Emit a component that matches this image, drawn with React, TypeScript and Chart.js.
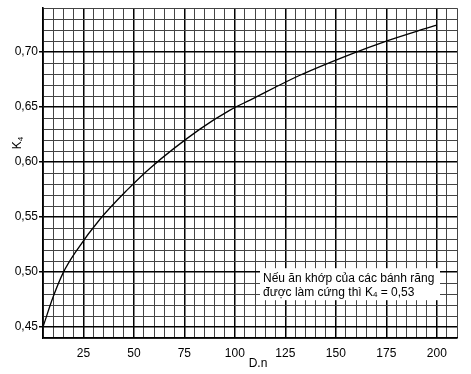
import { useEffect, useRef } from "react";
import { Chart, registerables } from "chart.js";

Chart.register(...registerables);

// D.n values along the curve and the matching K4 values
const dn = [5, 9.95, 14.9, 21.8, 33.2, 46.6, 58, 82.7, 97.6, 107.5, 132.2, 158.5, 173.3, 190.1, 200];
const k4 = [0.45, 0.477, 0.499, 0.52, 0.548, 0.5745, 0.5945, 0.63, 0.6473, 0.6564, 0.679, 0.699, 0.709, 0.719, 0.7245];

// labelled ticks
const xTickLabels = [25, 50, 75, 100, 125, 150, 175, 200];
const yTickLabels = [0.45, 0.5, 0.55, 0.6, 0.65, 0.7];

const xAxisTitle = "D.n";
const yAxisTitle = "K";
const yAxisSub = "4";
const noteLine1 = "Nếu ăn khớp của các bánh răng";
const noteLine2a = "được làm cứng thì K";
const noteLine2Sub = "4";
const noteLine2b = " = 0,53";

const FONT = '"Liberation Sans", Arial, Helvetica, sans-serif';

const isMajorX = (v: number) => xTickLabels.some((t) => Math.abs(t - v) < 1e-6);
const isMajorY = (v: number) => yTickLabels.some((t) => Math.abs(t - v) < 1e-6);

const textPlugin = {
  id: "textPlugin",
  afterDraw(chart: any) {
    const { ctx, chartArea: a } = chart;
    ctx.save();
    // note box
    const bx = a.left + 217;
    const by = a.top + 260;
    const bw = 180;
    const bh = 32;
    ctx.fillStyle = "#fff";
    ctx.fillRect(bx, by, bw, bh);
    ctx.fillStyle = "#000";
    ctx.textBaseline = "middle";
    ctx.textAlign = "left";
    ctx.font = `12px ${FONT}`;
    ctx.fillText(noteLine1, bx + 3, by + 10);
    const l2y = by + 24;
    let x = bx + 3;
    ctx.fillText(noteLine2a, x, l2y);
    x += ctx.measureText(noteLine2a).width;
    ctx.font = `8px ${FONT}`;
    ctx.fillText(noteLine2Sub, x, l2y + 3);
    x += ctx.measureText(noteLine2Sub).width;
    ctx.font = `12px ${FONT}`;
    ctx.fillText(noteLine2b, x, l2y);

    // x axis title
    ctx.textAlign = "center";
    ctx.fillText(xAxisTitle, 258, 364);

    // y axis title (rotated, with subscript)
    ctx.translate(18, 143);
    ctx.rotate(-Math.PI / 2);
    ctx.font = `12px ${FONT}`;
    const wK = ctx.measureText(yAxisTitle).width;
    ctx.font = `8px ${FONT}`;
    const w4 = ctx.measureText(yAxisSub).width;
    const start = -(wK + w4) / 2;
    ctx.textAlign = "left";
    ctx.font = `12px ${FONT}`;
    ctx.fillText(yAxisTitle, start, 0);
    ctx.font = `8px ${FONT}`;
    ctx.fillText(yAxisSub, start + wK, 3);
    ctx.restore();
  },
};

export default function App() {
  const ref = useRef<HTMLCanvasElement | null>(null);

  useEffect(() => {
    if (!ref.current) return;
    Chart.defaults.font.family = FONT;
    Chart.defaults.font.size = 12;
    Chart.defaults.color = "#000";
    const chart = new Chart(ref.current, {
      type: "line",
      data: {
        datasets: [
          {
            data: dn.map((x, i) => ({ x, y: k4[i] })),
            borderColor: "#000",
            borderWidth: 1.3,
            pointRadius: 0,
            fill: false,
            cubicInterpolationMode: "monotone",
          },
        ],
      },
      options: {
        responsive: false,
        animation: false,
        layout: { padding: { left: 0, top: 8, right: 14, bottom: 0 } },
        plugins: { legend: { display: false }, tooltip: { enabled: false } },
        scales: {
          x: {
            type: "linear",
            min: 5,
            max: 210,
            afterFit: (s: any) => {
              s.height = 36;
            },
            border: { display: true, color: "#000", width: 1.6 },
            grid: {
              drawTicks: false,
              color: (c: any) => (c.tick && isMajorX(c.tick.value) ? "#000" : "#444"),
              lineWidth: (c: any) => (c.tick && isMajorX(c.tick.value) ? 1.5 : 1),
            },
            ticks: {
              stepSize: 5,
              autoSkip: false,
              maxRotation: 0,
              padding: 8,
              color: "#000",
              font: { size: 12, family: FONT },
              callback: (v: any) => (isMajorX(Number(v)) ? String(v) : ""),
            },
          },
          y: {
            type: "linear",
            min: 0.44,
            max: 0.74,
            afterFit: (s: any) => {
              s.width = 43;
            },
            border: { display: true, color: "#000", width: 1.6 },
            grid: {
              drawTicks: true,
              tickLength: 4,
              tickColor: (c: any) => (c.tick && isMajorY(c.tick.value) ? "#000" : "rgba(0,0,0,0)"),
              color: (c: any) => (c.tick && isMajorY(c.tick.value) ? "#000" : "#444"),
              lineWidth: (c: any) => (c.tick && isMajorY(c.tick.value) ? 1.5 : 1),
            },
            ticks: {
              stepSize: 0.01,
              autoSkip: false,
              padding: 1,
              color: "#000",
              font: { size: 12, family: FONT },
              callback: (v: any) =>
                isMajorY(Number(v)) ? Number(v).toFixed(2).replace(".", ",") : "",
            },
          },
        },
      },
      plugins: [textPlugin],
    } as any);
    return () => chart.destroy();
  }, []);

  return (
    <div style={{ position: "fixed", left: 0, top: 0, width: 471, height: 374, background: "#fff" }}>
      <canvas ref={ref} width={471} height={374} style={{ display: "block" }} />
    </div>
  );
}
